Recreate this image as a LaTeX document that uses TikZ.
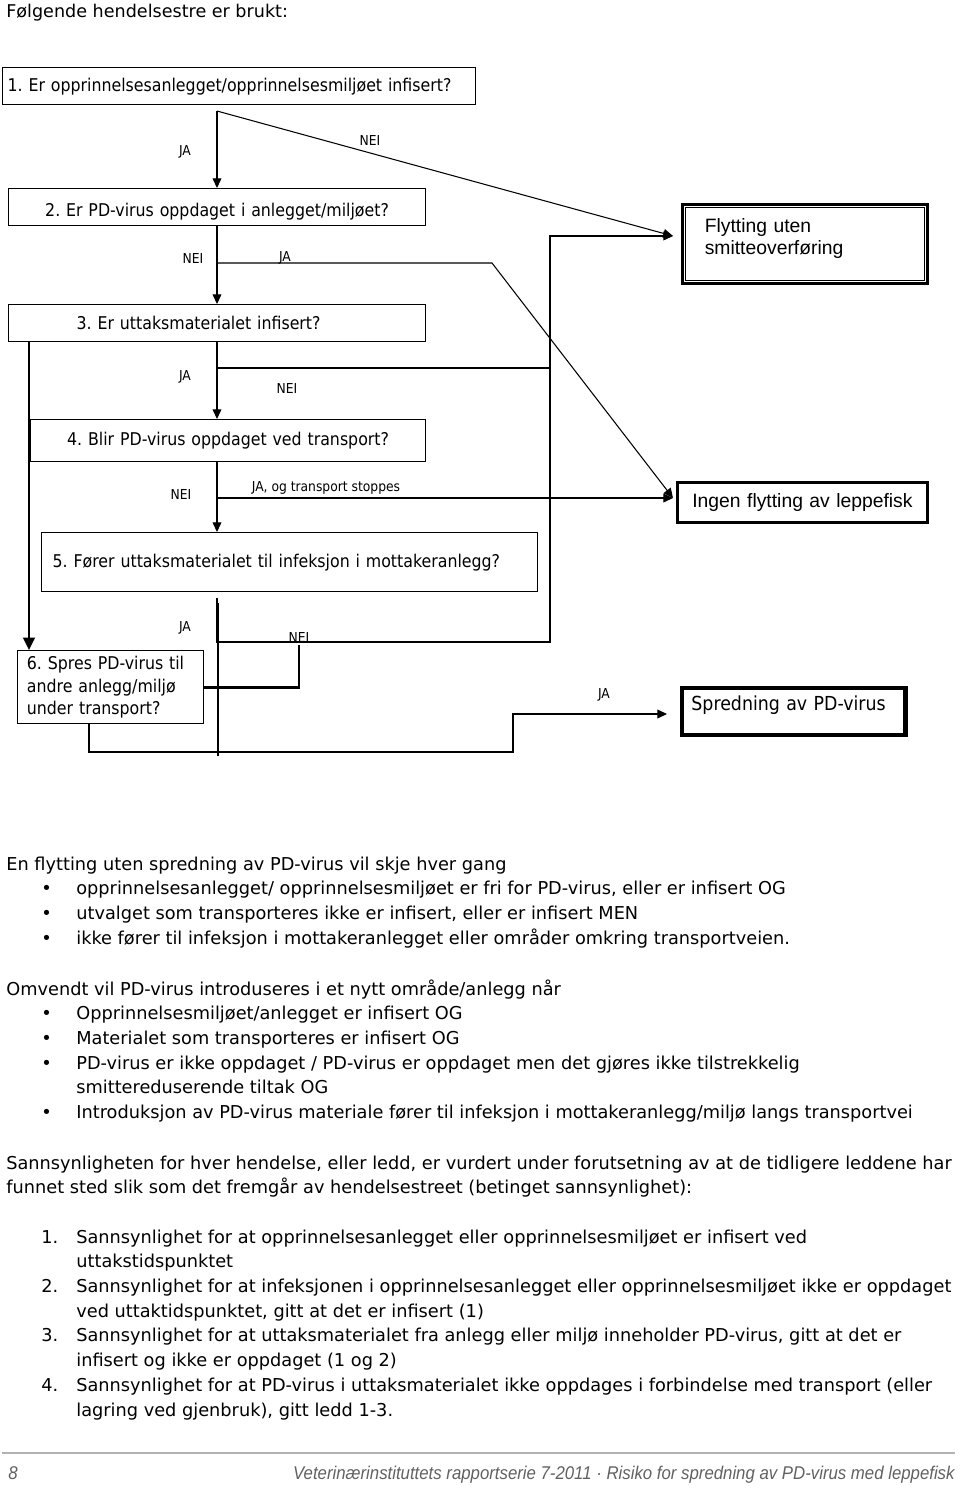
\documentclass[tikz,border=0pt]{standalone}
\usepackage{fontspec}
\setmainfont{DejaVu Sans Condensed}
\newfontfamily\bodyfont{DejaVu Sans}
\newfontfamily\arialfont{Liberation Sans}
\newfontfamily\footfont[FakeStretch=0.91]{Liberation Sans}
\usetikzlibrary{shapes,arrows.meta,calc}
\definecolor{footgray}{rgb}{.38,.38,.38}
\definecolor{rulegray}{rgb}{.7,.7,.7}
\tikzstyle{block} = [rectangle, draw, line width=0.75pt, anchor=north west,
    inner sep=0pt, minimum height=0.74cm, font=\fontsize{10}{12.8}\selectfont]
\tikzstyle{outcome} = [rectangle, draw, anchor=north west, inner sep=0pt,
    font=\arialfont\fontsize{11}{12.5}\selectfont]
\tikzstyle{line} = [draw, line width=0.6pt, -{Triangle[length=5.5pt,width=5pt]}]
\tikzstyle{thinline} = [draw, line width=0.6pt]
\tikzstyle{heavy} = [draw, line width=1.7pt]
\tikzstyle{answer} = [inner sep=0pt, font=\fontsize{7.8}{9}\selectfont]
\tikzstyle{para} = [anchor=base west, inner sep=0pt, font=\bodyfont\fontsize{10.1}{14.06}\selectfont]

\begin{document}
\frenchspacing
\begin{tikzpicture}[x=0.02cm, y=-0.02cm]
    \useasboundingbox (0,0) rectangle (960,1489);
    % Title
    \node [anchor=base west, inner sep=0pt, font=\bodyfont\fontsize{10}{13}\selectfont] (title) at (6,17) {Følgende hendelsestre er brukt:};
    % Place question boxes
    \node [block, minimum width=9.46cm, text width=9.26cm, align=left] (infisert) at (2,67) {1. Er opprinnelsesanlegget/opprinnelsesmiljøet infisert?};
    \node [block, minimum width=8.34cm, text width=7.94cm, align=center, text height=0.44cm] (oppdaget) at (8,188) {2. Er PD-virus oppdaget i anlegget/miljøet?};
    \node [block, minimum width=8.34cm, text width=5.62cm, align=left] (uttak) at (8,304) {3. Er uttaksmaterialet infisert?};
    \node [block, minimum width=7.9cm, minimum height=0.84cm, text width=7.5cm, align=center] (transport) at (30,419) {4. Blir PD-virus oppdaget ved transport?};
    \node [block, minimum width=9.92cm, minimum height=1.18cm, text width=9.48cm, align=left] (infeksjon) at (41,532) {5. Fører uttaksmaterialet til infeksjon i mottakeranlegg?};
    \node [block, minimum width=3.72cm, minimum height=1.46cm, text width=3.35cm, align=left] (spres) at (17,650) {6. Spres PD-virus til\\andre anlegg/miljø\\under transport?};
    % Place outcome boxes
    \node [outcome, line width=1.5pt, minimum width=4.9cm, minimum height=1.58cm, text width=4.0cm, align=left, text depth=0.72cm,
        font=\arialfont\fontsize{11}{12.4}\selectfont] (flytting) at (681,203) {Flytting uten\\smitteoverføring};
    \draw [line width=0.4pt] ([shift={(0.08cm,0.08cm)}]flytting.south west) rectangle ([shift={(-0.08cm,-0.08cm)}]flytting.north east);
    \node [outcome, line width=1.7pt, minimum width=5.0cm, minimum height=0.8cm, text width=4.6cm, align=center] (ingen) at (676,481) {Ingen flytting av leppefisk};
    \node [outcome, line width=2.8pt, minimum width=4.48cm, minimum height=0.94cm, text width=4.1cm, align=left, text depth=0.35cm,
        font=\fontsize{11}{13}\selectfont] (spredning) at (679.5,685.5) {Spredning av PD-virus};
    % Junction points
    \coordinate (col) at (217,0);
    \coordinate (left) at (29,0);
    \coordinate (bus) at (550,0);
    \coordinate (split1) at (217,111);
    \coordinate (ja2) at (217,263);
    \coordinate (bend2) at (492,263);
    \coordinate (nei3) at (217,368);
    \coordinate (ja4) at (217,498);
    \coordinate (below5) at (217,598);
    \coordinate (nei5) at (217,642);
    \coordinate (stemtop) at (218,603);
    \coordinate (stembot) at (218,756);
    \coordinate (nei6) at (299,645);
    \coordinate (out6) at (89,0);
    \coordinate (jabend) at (513,752);
    \coordinate (flyttin) at (673,236);
    \coordinate (ingenin) at (673,498);
    \coordinate (spredin) at (667,714);
    % Draw edges
    \path [line] (split1) -- (split1 |- oppdaget.north);
    \path [line] (split1) -- (flyttin);
    \path [line] (oppdaget.south -| col) -- (uttak.north -| col);
    \path [line] (ja2) -- (bend2) -- (ingenin);
    \path [line] (uttak.south -| col) -- (transport.north -| col);
    \path [thinline] (nei3) -- (nei3 -| bus);
    \path [line] (transport.south -| col) -- (infeksjon.north -| col);
    \path [line] (ja4) -- (ingenin);
    \path [line] (below5) -- (nei5) -- (nei5 -| bus) -- (bus |- flyttin) -- (flyttin);
    \path [heavy, line width=1.5pt, -{Triangle[length=7pt,width=6.5pt]}] (uttak.south -| left) -- (spres.north -| left);
    \path [heavy] (stemtop) -- (stembot);
    \path [heavy] (spres.east) -- (spres.east -| nei6) -- (nei6);
    \path [line] (spres.south -| out6) |- (jabend) |- (spredin);
    % Answer labels
    \node [answer] (a1ja) at (185,152) {JA};
    \node [answer] (a1nei) at (370,140) {NEI};
    \node [answer] (a2nei) at (193,258) {NEI};
    \node [answer] (a2ja) at (285,258) {JA};
    \node [answer] (a3ja) at (185,377) {JA};
    \node [answer] (a3nei) at (287,388) {NEI};
    \node [answer] (a4nei) at (181,494) {NEI};
    \node [answer] (a4ja) at (326,488) {JA, og transport stoppes};
    \node [answer] (a5ja) at (185,628) {JA};
    \node [answer] (a5nei) at (299,637) {NEI};
    \node [answer] (a6ja) at (604,695) {JA};
    % Text below the tree
    \node [para] (uten) at (6,870) {\begin{tabular}[t]{@{}p{0.7cm}@{}p{0.7cm}@{}l@{}}
        \multicolumn{3}{@{}l@{}}{En flytting uten spredning av PD-virus vil skje hver gang}\\
        & \textbullet & opprinnelsesanlegget/ opprinnelsesmiljøet er fri for PD-virus, eller er infisert OG\\
        & \textbullet & utvalget som transporteres ikke er infisert, eller er infisert MEN\\
        & \textbullet & ikke fører til infeksjon i mottakeranlegget eller områder omkring transportveien.
    \end{tabular}};
    \node [para] (omvendt) at (6,995) {\begin{tabular}[t]{@{}p{0.7cm}@{}p{0.7cm}@{}l@{}}
        \multicolumn{3}{@{}l@{}}{Omvendt vil PD-virus introduseres i et nytt område/anlegg når}\\
        & \textbullet & Opprinnelsesmiljøet/anlegget er infisert OG\\
        & \textbullet & Materialet som transporteres er infisert OG\\
        & \textbullet & PD-virus er ikke oppdaget / PD-virus er oppdaget men det gjøres ikke tilstrekkelig\\
        & & smittereduserende tiltak OG\\
        & \textbullet & Introduksjon av PD-virus materiale fører til infeksjon i mottakeranlegg/miljø langs transportvei
    \end{tabular}};
    \node [para] (sannsyn) at (6,1169) {\begin{tabular}[t]{@{}p{0.7cm}@{}p{0.7cm}@{}l@{}}
        \multicolumn{3}{@{}l@{}}{Sannsynligheten for hver hendelse, eller ledd, er vurdert under forutsetning av at de tidligere leddene har}\\
        \multicolumn{3}{@{}l@{}}{funnet sted slik som det fremgår av hendelsestreet (betinget sannsynlighet):}\\
        & & \\
        & 1. & Sannsynlighet for at opprinnelsesanlegget eller opprinnelsesmiljøet er infisert ved\\
        & & uttakstidspunktet\\
        & 2. & Sannsynlighet for at infeksjonen i opprinnelsesanlegget eller opprinnelsesmiljøet ikke er oppdaget\\
        & & ved uttaktidspunktet, gitt at det er infisert (1)\\
        & 3. & Sannsynlighet for at uttaksmaterialet fra anlegg eller miljø inneholder PD-virus, gitt at det er\\
        & & infisert og ikke er oppdaget (1 og 2)\\
        & 4. & Sannsynlighet for at PD-virus i uttaksmaterialet ikke oppdages i forbindelse med transport (eller\\
        & & lagring ved gjenbruk), gitt ledd 1-3.
    \end{tabular}};
    % Footer
    \coordinate (ruleL) at (2,1453);
    \coordinate (ruleR) at (955,1453);
    \draw [rulegray, line width=1.1pt] (ruleL) -- (ruleR);
    \node [anchor=base west, inner sep=0pt, text=footgray, font=\footfont\itshape\fontsize{10.5}{12}\selectfont] (pagenum) at (8,1479) {8};
    \node [anchor=base east, inner sep=0pt, text=footgray, font=\footfont\itshape\fontsize{10.5}{12}\selectfont] (series) at (955,1479) {Veterinærinstituttets rapportserie 7-2011 · Risiko for spredning av PD-virus med leppefisk};
\end{tikzpicture}
\end{document}
